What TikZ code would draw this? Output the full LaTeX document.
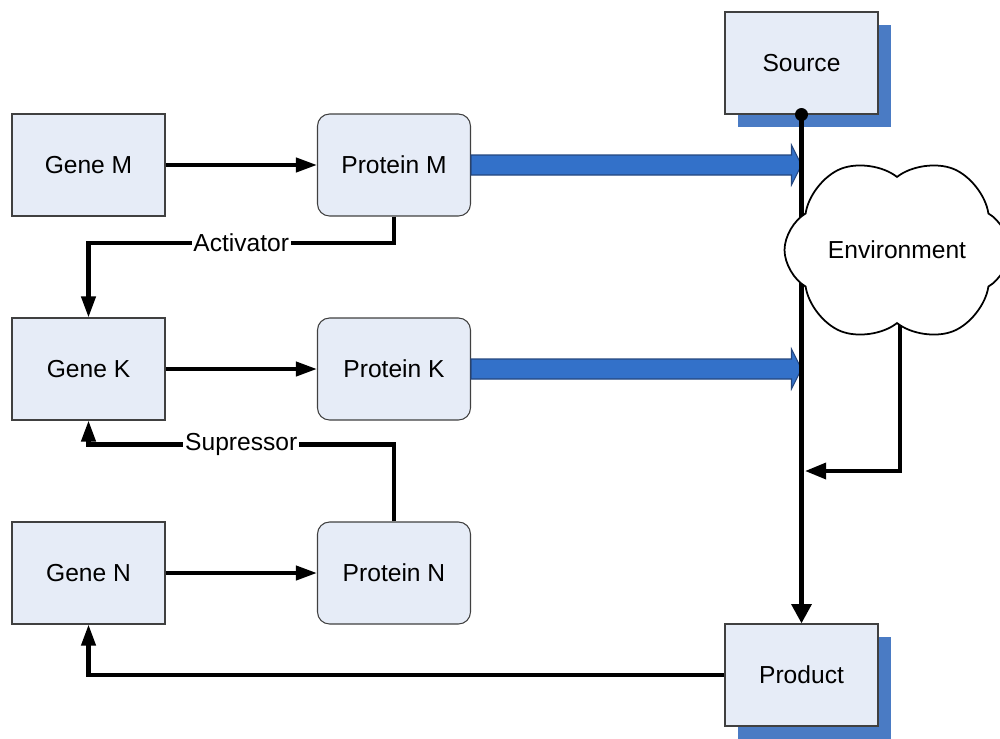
\documentclass[tikz,border=0pt]{standalone}
\usepackage{fontspec}
\setmainfont{Liberation Sans}
\usepackage{tikz}
\usetikzlibrary{
  arrows.meta,
  calc,
  shadows,
  shapes.symbols,
  positioning
}
\definecolor{boxfill}{HTML}{E6ECF7}
\definecolor{shadowblue}{HTML}{4A7BC4}
\definecolor{fluxblue}{HTML}{3371C9}
\definecolor{fluxline}{HTML}{24467E}
\tikzset{>={Triangle[length=12pt,width=8pt]}}
\tikzset{font=\fontsize{14}{16}\selectfont}
\tikzset{
  gene/.style={draw=black!75, line width=0.6pt, fill=boxfill,
    minimum width=3.06cm, minimum height=2.04cm},
  protein/.style={gene, rounded corners=0.24cm},
  store/.style={gene, drop shadow={shadow xshift=0.26cm, shadow yshift=-0.26cm,
      fill=shadowblue, opacity=1}},
  link/.style={->, line width=2.3pt},
  flux/.style={fill=fluxblue, draw=fluxline, line width=0.6pt},
  tag/.style={fill=white, inner sep=1pt}
}

\begin{document}
\begin{tikzpicture}[x=0.02cm, y=-0.02cm]
  \useasboundingbox (0,0) rectangle (1000,738);

  % genes and their proteins
  \node[gene] (gm) at (88.5,165) {Gene M};
  \node[gene] (gk) at (88.5,369) {Gene K};
  \node[gene] (gn) at (88.5,573) {Gene N};
  \node[protein] (pm) at (394,165) {Protein M};
  \node[protein] (pk) at (394,369) {Protein K};
  \node[protein] (pn) at (394,573) {Protein N};

  \node[store] (src) at (801.5,63) {Source};
  \node[store] (prd) at (801.5,675) {Product};

  \foreach \g/\p in {gm/pm, gk/pk, gn/pn}
    \draw[link] (\g.east) -- (\p.west);

  \draw[link] (pm.south) -- ++(0,26) -| (gk.north)
    node[tag, pos=0.25] {Activator};
  \draw[link] (pn.north) -- ++(0,-77) -| (gk.south)
    node[tag, pos=0.25] {Supressor};
  \draw[link] (prd.west) -| (gn.south);

  % fat arrows into the main line
  \foreach \p in {pm,pk}
    \filldraw[flux] ($(\p.east)+(0,-10)$) -- ($(\p.east -| src.south)+(-10,-10)$)
      -- ($(\p.east -| src.south)+(-10,-20)$) -- (\p.east -| src.south)
      -- ($(\p.east -| src.south)+(-10,20)$) -- ($(\p.east -| src.south)+(-10,10)$)
      -- ($(\p.east)+(0,10)$) -- cycle;

  \draw[line width=2.8pt, -{Triangle[length=11pt,width=11pt]}] (src.south) -- (prd.north);
  \fill (src.south) circle (6.5);

  % cloud sits over the main line, turned so two puffs face up
  \coordinate (envout) at (900,250);
  \draw[link, -{Triangle[length=12pt,width=9pt]}] (envout) |- (805,471);
  \node[cloud, draw, fill=white, line width=1pt, cloud puffs=6, cloud puff arc=120,
    cloud ignores aspect, rotate=90, minimum width=3.75cm, minimum height=4.5cm,
    inner sep=0pt] (env) at (897,250) {};
  \node (envtext) at (env.center) {Environment};
\end{tikzpicture}
\end{document}
